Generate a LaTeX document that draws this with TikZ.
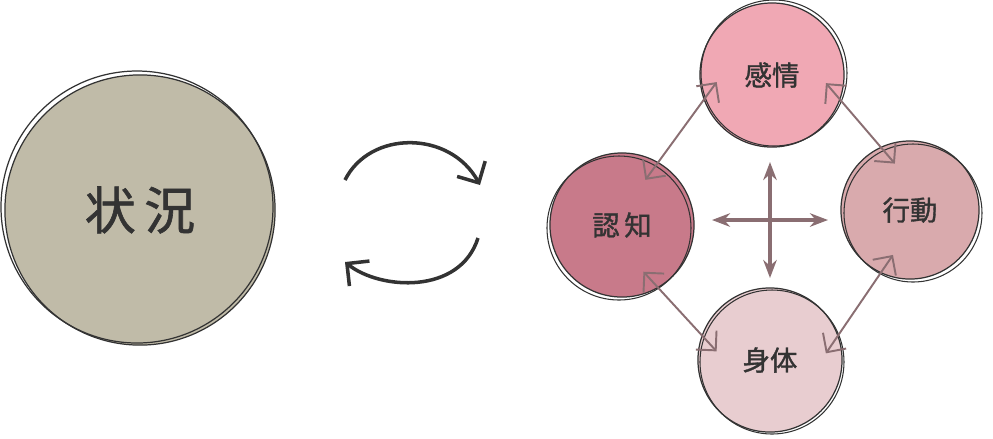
\documentclass[tikz,border=0pt]{standalone}
\usepackage{fontspec}
\newfontfamily\cjk[FakeBold=1.2]{Noto Sans CJK JP}
\usetikzlibrary{arrows.meta}
\definecolor{situ}{HTML}{C0BBA8}
\definecolor{emo}{HTML}{F0A8B4}
\definecolor{cog}{HTML}{C87A8A}
\definecolor{act}{HTML}{D9AAAD}
\definecolor{body}{HTML}{E8CDD0}
\definecolor{link}{HTML}{8A6E72}
\definecolor{ink}{HTML}{333333}
\tikzset{
	blob/.style={circle, draw=ink, line width=0.35pt, inner sep=0pt, font=\cjk\fontsize{7.8}{8}\selectfont, text=ink},
	twin/.style={link, line width=0.55pt, shorten <=-2.2mm, shorten >=-2.2mm, {Straight Barb[length=1.4mm]}-{Straight Barb[length=1.4mm]}},
	cross/.style={link, line width=1.3pt, {Stealth[length=1.8mm]}-{Stealth[length=1.8mm]}},
	cyc/.style={ink, line width=1pt, -{Straight Barb[length=1.6mm]}}
}
\begin{document}
\begin{tikzpicture}[x=0.01cm, y=-0.01cm]
	\useasboundingbox (0,0) rectangle (993,438);
	%situation
	\node[blob, fill=situ, minimum size=2.7cm, font=\cjk\fontsize{14.5}{15}\selectfont] (situ) at (140,210) {状\,況};
	\draw[ink, line width=0.35pt] (137,207) circle (136);
	%cycle arrows
	\coordinate (c1) at (345,180);
	\coordinate (c2) at (480,185);
	\coordinate (c3) at (478,238);
	\coordinate (c4) at (345,262);
	\draw[cyc] (c1) .. controls (370,130) and (450,130) .. (c2);
	\draw[cyc] (c3) .. controls (460,295) and (380,290) .. (c4);
	%four circles
	\node[blob, fill=emo, minimum size=1.44cm] (emo) at (772,75) {感情};
	\node[blob, fill=cog, minimum size=1.44cm] (cog) at (622,225) {認\,知};
	\node[blob, fill=act, minimum size=1.38cm] (act) at (910,210) {行動};
	\node[blob, fill=body, minimum size=1.44cm] (body) at (770,360) {身体};
	\draw[ink, line width=0.3pt] (774,73) circle (73);
	\draw[ink, line width=0.3pt] (619,228) circle (72);
	\draw[ink, line width=0.3pt] (913,213) circle (69);
	\draw[ink, line width=0.3pt] (772,362) circle (72);
	%links
	\draw[twin] (emo.200) -- (cog.60);
	\draw[twin] (emo.340) -- (act.115);
	\draw[twin] (cog.300) -- (body.160);
	\draw[twin] (act.245) -- (body.20);
	%cross
	\coordinate (cl) at (712,220);
	\coordinate (cr) at (828,220);
	\coordinate (ct) at (770,162);
	\coordinate (cb) at (770,278);
	\draw[cross] (cl) -- (cr);
	\draw[cross] (ct) -- (cb);
\end{tikzpicture}
\end{document}
